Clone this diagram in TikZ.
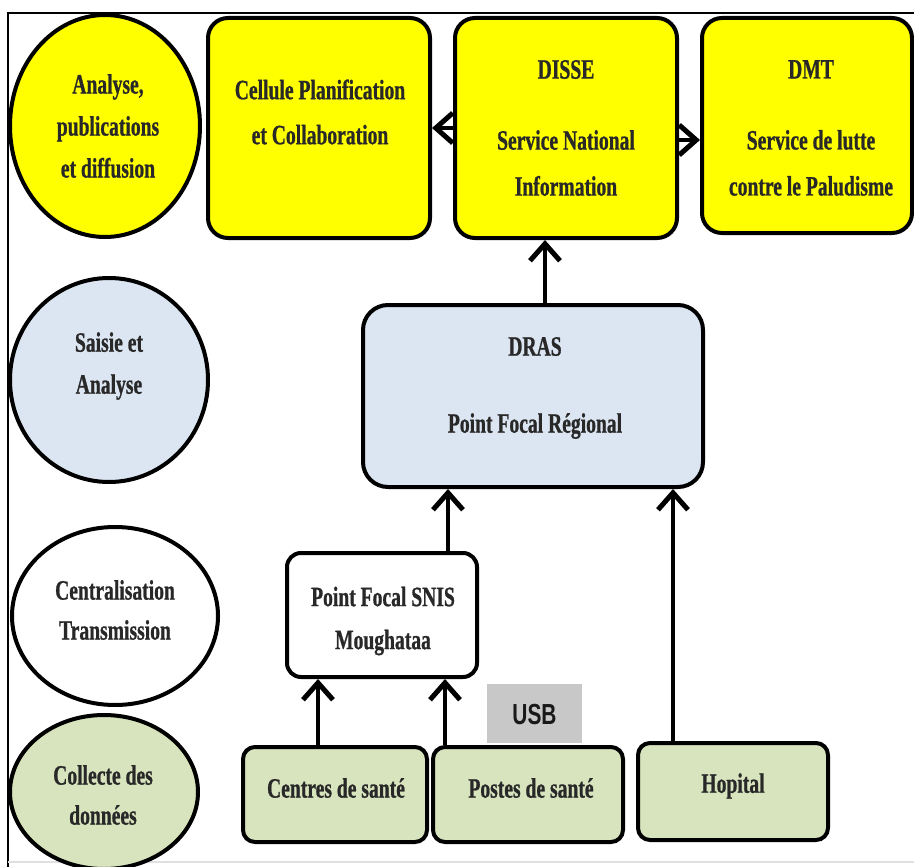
\documentclass[tikz,border=0pt]{standalone}
\usepackage{fontspec}
\setmainfont[FakeStretch=0.7,BoldFeatures={FakeBold=0.8}]{Liberation Serif}
\newfontfamily\usbfont[FakeStretch=0.72]{Liberation Sans}
\usetikzlibrary{arrows.meta,shapes.geometric}
\definecolor{yel}{RGB}{255,255,0}
\definecolor{blu}{RGB}{220,230,242}
\definecolor{grn}{RGB}{215,228,189}
\definecolor{usbg}{RGB}{200,200,200}
\definecolor{txtc}{RGB}{40,40,40}
\begin{document}
\begin{tikzpicture}[x=1pt,y=-1pt,
  lvl/.style={ellipse, draw=black, line width=4pt, inner sep=0pt},
  box/.style={draw=black, line width=4pt, rounded corners=20pt, inner sep=0pt},
  txt/.style={font=\bfseries\fontsize{28}{42}\selectfont, text=txtc, align=center, inner sep=0pt},
  arr/.style={line width=4pt, -{Straight Barb[length=17pt,width=30pt,line width=5pt]}}]
\useasboundingbox (0,0) rectangle (914,867);
\fill[white] (0,0) rectangle (914,867);
% frame
\draw[line width=2pt] (8,867) -- (8,13) -- (914,13);
\draw[line width=1.5pt, black!12] (8,862) -- (914,862);
% level ellipses
\node[lvl, fill=yel, minimum width=190pt, minimum height=222pt] (e1) at (105,126) {};
\node[lvl, fill=blu, minimum width=198pt, minimum height=204pt] (e2) at (109,380) {};
\node[lvl, fill=white, minimum width=206pt, minimum height=178pt] (e3) at (115,616) {};
\node[lvl, fill=grn, minimum width=188pt, minimum height=154pt] (e4) at (104,792) {};
\node[txt] (e1t) at (108,126) {Analyse,\\publications\\et diffusion};
\node[txt] (e2t) at (109,366) {Saisie et\\Analyse};
\node[txt, font=\bfseries\fontsize{28}{40}\selectfont] (e3t) at (115,610) {Centralisation\\Transmission};
\node[txt, font=\bfseries\fontsize{28}{40}\selectfont] (e4t) at (103,795) {Collecte des\\données};
% top boxes
\node[box, fill=yel, minimum width=222pt, minimum height=220pt] (cell) at (319,128) {};
\node[box, fill=yel, minimum width=222pt, minimum height=220pt] (disse) at (566,128) {};
\node[box, fill=yel, minimum width=210pt, minimum height=215pt] (dmt) at (807,125.5) {};
\node[txt, font=\bfseries\fontsize{28}{45}\selectfont] (cellt) at (320,112) {Cellule Planification\\et Collaboration};
\node[txt, font=\bfseries\fontsize{28}{46}\selectfont] (disset) at (566,128) {DISSE\\[25pt]Service National\\Information};
\node[txt, font=\bfseries\fontsize{28}{46}\selectfont] (dmtt) at (811,128) {DMT\\[25pt]Service de lutte\\contre le Paludisme};
% DRAS
\node[box, fill=blu, rounded corners=25pt, minimum width=340pt, minimum height=182pt] (dras) at (533,396) {};
\node[txt, font=\bfseries\fontsize{28}{77}\selectfont] (drast) at (535,388) {DRAS\\Point Focal Régional};
% SNIS
\node[box, fill=white, rounded corners=14pt, minimum width=190pt, minimum height=124pt] (snis) at (382,615) {};
\node[txt, font=\bfseries\fontsize{28}{43}\selectfont] (snist) at (383,621) {Point Focal SNIS\\Moughataa};
% USB
\node[fill=usbg, minimum width=95pt, minimum height=59pt, inner sep=0pt] (usb) at (534.5,713.5) {};
\node[font=\usbfont\bfseries\fontsize{29}{32}\selectfont, text=black!90, inner sep=0pt] (usbt) at (534.5,715) {USB};
% bottom boxes
\node[box, fill=grn, rounded corners=12pt, minimum width=184pt, minimum height=95pt] (centres) at (335,794.5) {};
\node[box, fill=grn, rounded corners=12pt, minimum width=190pt, minimum height=95pt] (postes) at (528,794.5) {};
\node[box, fill=grn, rounded corners=12pt, minimum width=190pt, minimum height=97pt] (hop) at (733,791.5) {};
\node[txt] (centrest) at (336,788) {Centres de santé};
\node[txt] (postest) at (531,788) {Postes de santé};
\node[txt] (hopt) at (733,786) {Hopital};
% arrows
\draw[arr] (disse.west) -- (cell.east);
\draw[arr] ([yshift=-12pt]disse.east) -- ([yshift=-12pt]disse.east -| dmt.west);
\draw[arr] ([xshift=12pt]dras.north) -- ([xshift=12pt]dras.north |- disse.south);
\draw[arr] ([xshift=66pt]snis.north) -- ([xshift=66pt]snis.north |- dras.south);
\draw[arr] ([xshift=-60pt]hop.north) -- ([xshift=-60pt]hop.north |- dras.south);
\draw[arr] ([xshift=-17pt]centres.north) -- ([xshift=-17pt]centres.north |- snis.south);
\draw[arr] ([xshift=-83pt]postes.north) -- ([xshift=-83pt]postes.north |- snis.south);
\end{tikzpicture}
\end{document}
